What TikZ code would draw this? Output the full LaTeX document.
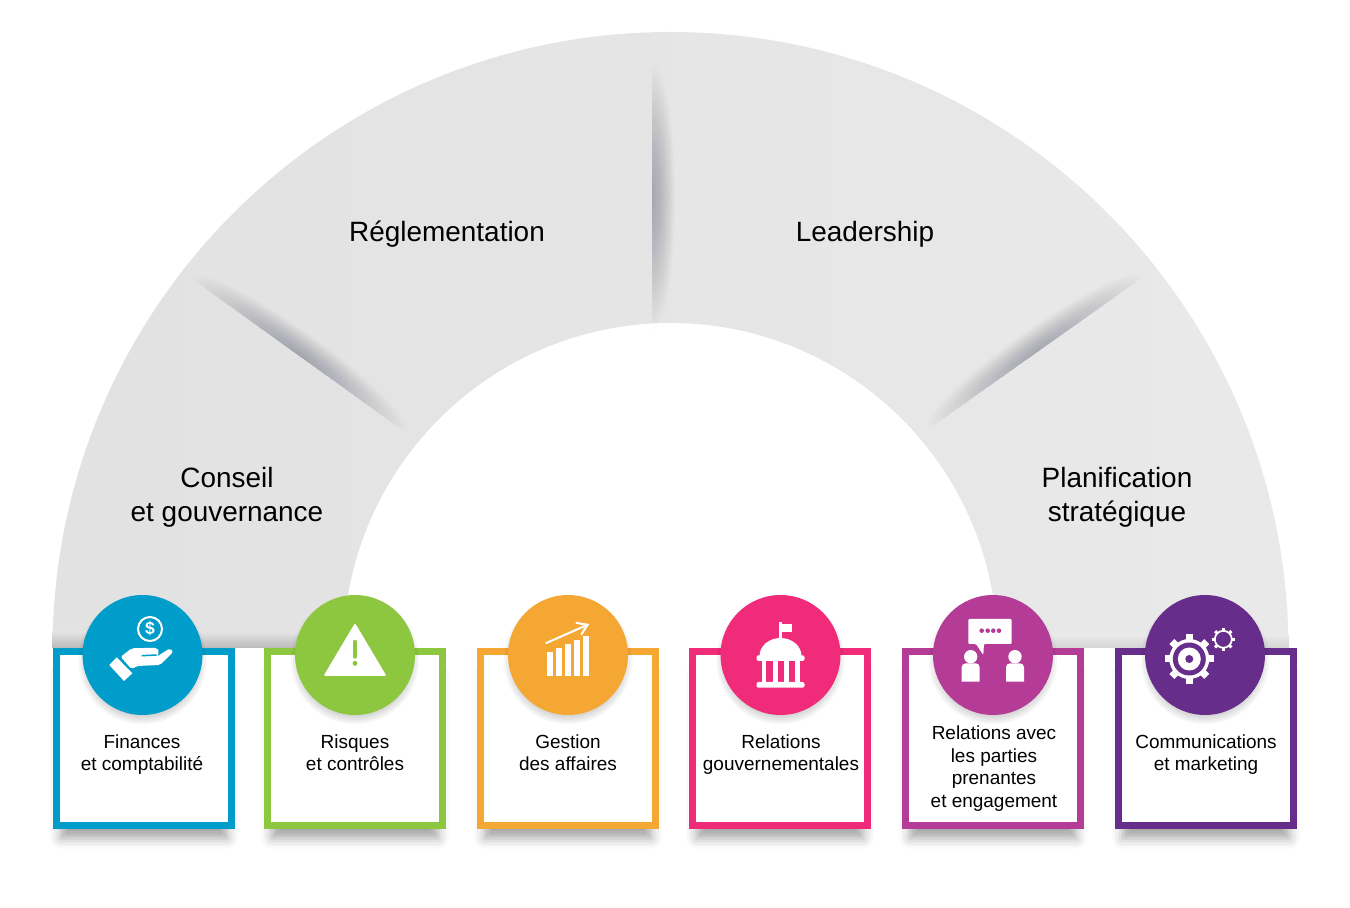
\documentclass[tikz,border=0pt]{standalone}
\usepackage{fontspec}
\setmainfont{Liberation Sans}
\usepackage{tikz}
\usetikzlibrary{shadows.blur, arrows.meta}

\definecolor{bluecol}{HTML}{009CCA}
\definecolor{greencol}{HTML}{8DC63F}
\definecolor{orangecol}{HTML}{F5A733}
\definecolor{pinkcol}{HTML}{F02B79}
\definecolor{magentacol}{HTML}{B53C96}
\definecolor{purplecol}{HTML}{662D8A}
\definecolor{seamcol}{HTML}{50546A}

\tikzset{
	cardbox/.style={draw, fill=white, line width=.14cm, minimum width=3.5cm, minimum height=3.48cm, inner sep=0pt, outer sep=0pt,
		blur shadow={shadow xshift=0cm, shadow yshift=-.36cm, shadow scale=.95, shadow blur radius=.22cm, shadow opacity=36}},
	discnode/.style={circle, minimum size=2.4cm, inner sep=0pt},
	cardtext/.style={align=center, font=\fontsize{10.8}{13}\selectfont, inner sep=0pt, execute at end node=\strut},
	bigtext/.style={align=center, font=\fontsize{15.9}{19.3}\selectfont, inner sep=0pt}
}

\newcommand{\seamshade}[3]{
	\begin{scope}[shift={(#1,#2)}, rotate=#3]
		\clip (-140,0) rectangle (140,30);
		\foreach \k in {0.04,0.08,...,1.0}
			\fill[seamcol, opacity=.02] (0,0) ellipse ({138*\k} and {24*\k});
	\end{scope}
}

\begin{document}
\begin{tikzpicture}[x=.02cm, y=.02cm]
	\useasboundingbox (0,0) rectangle (1350,907);
	\begin{scope}
		\clip (0,259) rectangle (1350,907);
		\shade[left color=black!11.5!white, right color=black!8.5!white, middle color=black!10!white]
			(52.5,257) arc[start angle=180, end angle=0, radius=618] -- (997.5,257) arc[start angle=0, end angle=180, radius=327] -- cycle;
		\shade[bottom color=black!27!white, top color=black!11!white] (52,259) rectangle (344,275);
		\shade[bottom color=black!17!white, top color=black!8.5!white] (997,259) rectangle (1289,272);
	\end{scope}
	\seamshade{298}{552}{-35.7}
	\seamshade{652}{710}{-90}
	\seamshade{1036.5}{554.5}{35.3}

	\node[bigtext] (conseil) at (227,410) {Conseil\\et gouvernance};
	\node[bigtext] (reglementation) at (447,673) {Réglementation};
	\node[bigtext] (leadership) at (865,673) {Leadership};
	\node[bigtext] (planification) at (1117,410) {Planification\\stratégique};

	\foreach \name/\x/\col in {fin/144/bluecol, ris/355/greencol, ges/568/orangecol, gov/780/pinkcol, par/993/magentacol, com/1206/purplecol}
		\node[cardbox, draw=\col] (\name-card) at (\x,168.5) {};

	\foreach \name/\x/\col in {fin/142.5/bluecol, ris/355/greencol, ges/568/orangecol, gov/780.5/pinkcol, par/993/magentacol, com/1205/purplecol}{
		\foreach \r in {52,54,...,64}
			\fill[black, opacity=.035] (\x,247) circle (\r);
		\node[discnode, fill=\col] (\name-disc) at (\x,252) {};
	}

	\node[cardtext] (fin-text) at (142,151) {Finances\\et comptabilité};
	\node[cardtext] (ris-text) at (355,151) {Risques\\et contrôles};
	\node[cardtext] (ges-text) at (568,151) {Gestion\\des affaires};
	\node[cardtext] (gov-text) at (781,151) {Relations\\gouvernementales};
	\node[cardtext] (par-text) at (994,137) {Relations avec\\les parties\\prenantes\\et engagement};
	\node[cardtext] (com-text) at (1206,151) {Communications\\et marketing};

	\begin{scope}[shift={(fin-disc.center)}]
		\draw[white, line width=.04cm] (7.5,26) circle (12);
		\node[white, font=\fontsize{10}{10}\selectfont\bfseries, inner sep=0pt] (dollar) at (7.5,26) {\$};
		\fill[white, rounded corners=.04cm] (-21.8,-1.7) -- (-10.8,6.7) -- (14.2,7.3) -- (17,3) -- (14.2,-1.7) -- (27.5,6.7) -- (30.8,3.3) -- (17.5,-10) -- (-5.8,-11) -- (-10.8,-14.3) -- cycle;
		\draw[bluecol, line width=.03cm] (-0.8,-0.7) -- (14.2,0);
		\fill[white] (-33.2,-10) -- (-25.8,-2.3) -- (-10.2,-18.3) -- (-18.5,-26) -- cycle;
	\end{scope}

	\begin{scope}[shift={(ris-disc.center)}]
		\fill[white, rounded corners=.04cm] (0,32) -- (31.5,-21) -- (-31.5,-21) -- cycle;
		\draw[greencol, line width=.08cm, line cap=round] (0,13.3) -- (0,-1.7);
		\fill[greencol] (0,-8.3) circle (2.5);
	\end{scope}

	\begin{scope}[shift={(ges-disc.center)}]
		\foreach \a/\b/\top in {-20.7/-15.3/3.3, -12/-6.3/7.3, -3/2.7/11.3, 6/11.7/15, 15/20.7/19}
			\fill[white] (\a,-21) rectangle (\b,\top);
		\draw[white, line width=.04cm, -{Straight Barb[length=.2cm, width=.26cm]}] (-22.3,11.7) -- (21.3,31);
	\end{scope}

	\begin{scope}[shift={(gov-disc.center)}]
		\fill[white] (-1.7,15) rectangle (1.7,33);
		\fill[white] (1.7,31.3) rectangle (11.7,23);
		\fill[white] (-21,-1) arc[start angle=180, end angle=0, x radius=21, y radius=18] -- cycle;
		\fill[white, rounded corners=.04cm] (-24,-.3) rectangle (24,-6);
		\foreach \a/\b in {-19/-14.3, -7.7/-3, 3.3/8.3, 14.3/19.3}
			\fill[white] (\a,-5) rectangle (\b,-28);
		\fill[white, rounded corners=.04cm] (-24,-27) rectangle (24,-32.7);
	\end{scope}

	\begin{scope}[shift={(par-disc.center)}]
		\fill[white, rounded corners=.02cm] (-24.7,36) -- (18.7,36) -- (18.7,11) -- (-9,11) -- (-9.7,0) -- (-17,11) -- (-24.7,11) -- cycle;
		\foreach \x in {-11.3,-5.3,0.3,6}
			\fill[magentacol] (\x,24.3) circle (2.3);
		\foreach \x in {-22.3,22}{
			\fill[white] (\x,-1.7) circle (6.7);
			\fill[white] (\x-9,-26.7) [rounded corners=.08cm] -- (\x-9,-8.3) -- (\x+9,-8.3) [sharp corners] -- (\x+9,-26.7) -- cycle;
		}
	\end{scope}

	\begin{scope}[shift={(com-disc.center)}]
		\begin{scope}[shift={(-15.7,-4)}]
			\foreach \a in {0,45,...,315}
				\draw[white, line width=.14cm] (\a:18) -- (\a:24.7);
			\fill[white] (0,0) circle (20);
			\fill[purplecol] (0,0) circle (16.5);
			\fill[white] (0,0) circle (11.5);
			\fill[purplecol] (0,0) circle (4);
		\end{scope}
		\begin{scope}[shift={(18.3,15.7)}]
			\foreach \a in {0,45,...,315}
				\draw[white, line width=.06cm] (\a:8) -- (\a:11.5);
			\draw[white, line width=.035cm] (0,0) circle (8.5);
		\end{scope}
	\end{scope}
\end{tikzpicture}
\end{document}
